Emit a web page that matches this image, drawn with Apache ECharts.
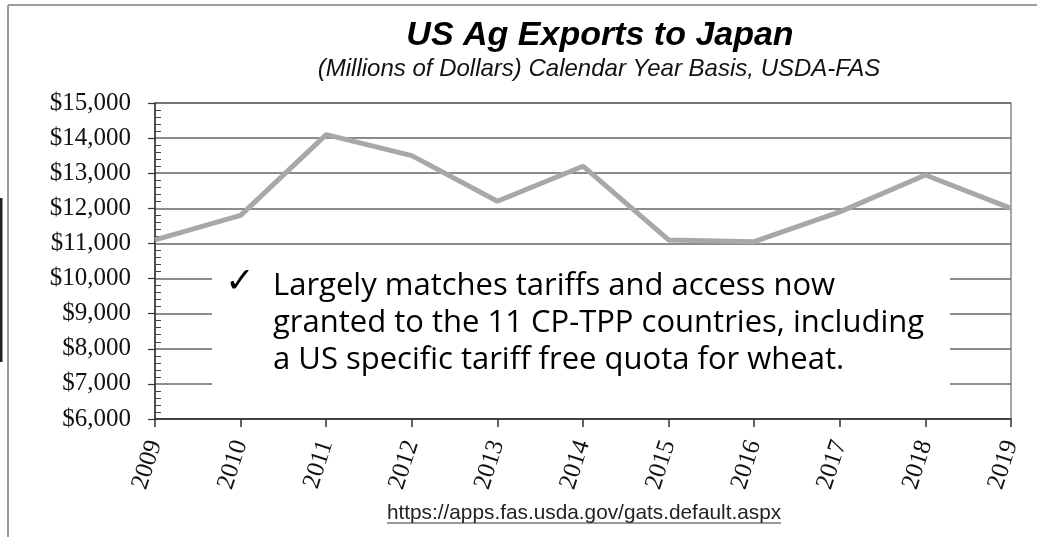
<!DOCTYPE html>
<html>
<head>
<meta charset="utf-8">
<script src="https://cdn.jsdelivr.net/npm/echarts@6/dist/echarts.min.js"></script>
<style>
  html, body { margin: 0; padding: 0; background: #fff; }
  #chart { width: 1037px; height: 537px; }
</style>
</head>
<body>
<div id="chart"></div>
<script>
// years on the x axis
const years = ['2009', '2010', '2011', '2012', '2013', '2014', '2015', '2016', '2017', '2018', '2019']
// US ag exports to Japan, millions of dollars
const exportsJapan = [11100, 11800, 14100, 13500, 12200, 13200, 11100, 11050, 11900, 12950, 12000]
// y axis range
const yMin = 6000
const yMax = 15000
const yStep = 1000

const titleText = 'US Ag Exports to Japan'
const subText = '(Millions of Dollars) Calendar Year Basis, USDA-FAS'
const noteLines = [
    'Largely matches tariffs and access now',
    'granted to the 11 CP-TPP countries, including',
    'a US specific tariff free quota for wheat.'
]
const sourceUrl = 'https://apps.fas.usda.gov/gats.default.aspx'

const chart = echarts.init(document.getElementById('chart'))

const fmtMoney = v => '$' + String(v).replace(/\B(?=(\d{3})+(?!\d))/g, ',')

const option = {
    backgroundColor: '#fff',
    animation: false,
    grid: {
        left: 155,
        right: 26,
        top: 103,
        bottom: 118,
        show: true,
        borderColor: '#8a8a8a',
        borderWidth: 1.5
    },
    xAxis: {
        type: 'category',
        data: years,
        boundaryGap: false,
        axisLine: { lineStyle: { color: '#333', width: 1.5 } },
        axisTick: { show: true, length: 8, alignWithLabel: true, lineStyle: { color: '#333', width: 1.5 } },
        axisLabel: {
            rotate: 72,
            margin: 22,
            color: '#111',
            fontFamily: 'Liberation Serif',
            fontSize: 25
        },
        splitLine: { show: false }
    },
    yAxis: {
        type: 'value',
        min: yMin,
        max: yMax,
        interval: yStep,
        axisLine: { show: true, lineStyle: { color: '#333', width: 1.5 } },
        axisTick: { show: true, length: 7, lineStyle: { color: '#333', width: 1.2 } },
        minorTick: { show: true, splitNumber: 5, length: -6, lineStyle: { color: '#444', width: 1 } },
        axisLabel: {
            margin: 24,
            color: '#111',
            fontFamily: 'Liberation Serif',
            fontSize: 25,
            formatter: fmtMoney
        },
        splitLine: { show: true, lineStyle: { color: '#666', width: 1.5 } }
    },
    series: [{
        type: 'line',
        data: exportsJapan,
        symbol: 'none',
        z: 5,
        lineStyle: { color: '#a8a8a8', width: 5 }
    }],
    graphic: [
        // outer frame of the pasted chart
        { type: 'line', z: 10, shape: { x1: 8, y1: 5, x2: 1037, y2: 5 }, style: { stroke: '#9c9c9c', lineWidth: 2 } },
        { type: 'line', z: 10, shape: { x1: 8, y1: 5, x2: 8, y2: 537 }, style: { stroke: '#9c9c9c', lineWidth: 2 } },
        { type: 'rect', z: 10, shape: { x: 0, y: 198, width: 2.5, height: 164 }, style: { fill: '#222' } },
        // titles
        {
            type: 'text', z: 10, x: 600, y: 36,
            style: {
                text: titleText, align: 'center', verticalAlign: 'middle',
                font: 'italic bold 34px "Liberation Sans"', fill: '#000'
            }
        },
        {
            type: 'text', z: 10, x: 599, y: 69,
            style: {
                text: subText, align: 'center', verticalAlign: 'middle',
                font: 'italic 24px "Liberation Sans"', fill: '#111'
            }
        },
        // note box over the lower part of the plot
        { type: 'rect', z: 3, shape: { x: 212, y: 251, width: 738, height: 152 }, style: { fill: '#fff' } },
        {
            type: 'text', z: 10, x: 240, y: 283,
            style: { text: '✓', align: 'center', verticalAlign: 'middle', font: 'bold 35px "DejaVu Sans"', fill: '#000' }
        },
        {
            type: 'text', z: 10, x: 273, y: 268,
            style: {
                text: noteLines.join('\n'), align: 'left', verticalAlign: 'top',
                font: '31px "Open Sans"', lineHeight: 37, fill: '#000'
            }
        },
        // source line
        {
            type: 'text', z: 10, x: 584, y: 513,
            style: { text: sourceUrl, align: 'center', verticalAlign: 'middle', font: '20.8px "Liberation Sans"', fill: '#222' }
        },
        { type: 'line', z: 10, shape: { x1: 387, y1: 523, x2: 781, y2: 523 }, style: { stroke: '#333', lineWidth: 1.2 } }
    ]
}

chart.setOption(option)
</script>
</body>
</html>
